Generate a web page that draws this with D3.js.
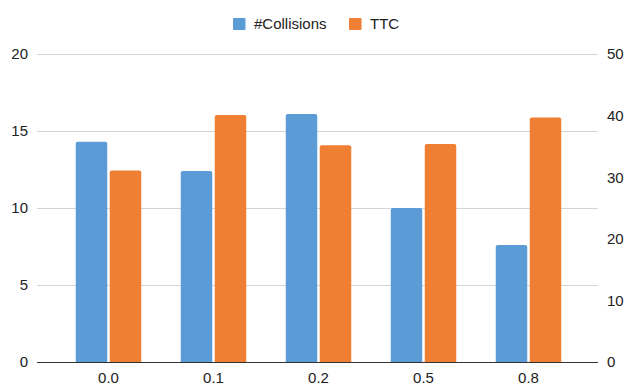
<!DOCTYPE html>
<html>
<head>
<meta charset="utf-8">
<script src="https://cdn.jsdelivr.net/npm/d3@7"></script>
<style>
  html, body { margin: 0; padding: 0; background: #fff; }
  svg { display: block; font-family: Arial, "Liberation Sans", sans-serif; }
</style>
</head>
<body>
<svg id="chart" width="634" height="385"></svg>
<script>
// Categories along the x axis
const categories = ["0.0", "0.1", "0.2", "0.5", "0.8"];
// Left-axis series
const collisions = [14.3, 12.4, 16.1, 10.0, 7.6];
// Right-axis series
const ttc = [31.1, 40.1, 35.2, 35.4, 39.7];
// Axis ticks
const leftTicks = [0, 5, 10, 15, 20];
const rightTicks = [0, 10, 20, 30, 40, 50];
const seriesNames = ["#Collisions", "TTC"];
const colors = ["#5b9bd6", "#ee7f33"];

const svg = d3.select("#chart");
const plot = { left: 37, right: 598, top: 54, bottom: 362 };

const x = d3.scaleBand().domain(categories).range([56, 581]);
const yL = d3.scaleLinear().domain([0, 20]).range([plot.bottom, plot.top]);
const yR = d3.scaleLinear().domain([0, 50]).range([plot.bottom, plot.top]);

// Horizontal gridlines
svg.append("g")
  .selectAll("line")
  .data(leftTicks.filter(d => d > 0))
  .join("line")
  .attr("x1", plot.left).attr("x2", plot.right)
  .attr("y1", d => Math.round(yL(d)) + 0.5).attr("y2", d => Math.round(yL(d)) + 0.5)
  .attr("stroke", "#d4d4d4").attr("stroke-width", 1);

// Bars with slightly rounded top corners
const barW = 31.5, gap = 2.5;
function roundTopRect(x0, y0, w, h, r) {
  r = Math.min(r, h);
  return `M${x0},${y0 + h}V${y0 + r}Q${x0},${y0} ${x0 + r},${y0}H${x0 + w - r}Q${x0 + w},${y0} ${x0 + w},${y0 + r}V${y0 + h}Z`;
}
const groups = svg.append("g");
categories.forEach((c, i) => {
  const cx = x(c) + x.bandwidth() / 2;
  const yb = yL(collisions[i]);
  groups.append("path")
    .attr("d", roundTopRect(cx - gap / 2 - barW, yb, barW, plot.bottom - yb, 2))
    .attr("fill", colors[0]);
  const yo = yR(ttc[i]);
  groups.append("path")
    .attr("d", roundTopRect(cx + gap / 2, yo, barW, plot.bottom - yo, 2))
    .attr("fill", colors[1]);
});

// Baseline
svg.append("line")
  .attr("x1", plot.left).attr("x2", plot.right)
  .attr("y1", plot.bottom + 0.5).attr("y2", plot.bottom + 0.5)
  .attr("stroke", "#333").attr("stroke-width", 1);

// Left axis
const axL = d3.axisLeft(yL).tickValues(leftTicks).tickSize(0).tickPadding(0);
const gL = svg.append("g").attr("transform", "translate(28,0)").call(axL);
gL.select(".domain").remove();
gL.selectAll("text").attr("font-size", 15).attr("fill", "#222").attr("font-family", "Arial, 'Liberation Sans', sans-serif");

// Right axis
const axR = d3.axisRight(yR).tickValues(rightTicks).tickSize(0).tickPadding(0);
const gR = svg.append("g").attr("transform", "translate(607,0)").call(axR);
gR.select(".domain").remove();
gR.selectAll("text").attr("font-size", 15).attr("fill", "#222").attr("font-family", "Arial, 'Liberation Sans', sans-serif");

// Category axis
const axB = d3.axisBottom(x).tickSize(0).tickPadding(0);
const gB = svg.append("g").attr("transform", `translate(0,${plot.bottom})`).call(axB);
gB.select(".domain").remove();
gB.selectAll("text").attr("font-size", 15).attr("fill", "#222").attr("dy", null).attr("y", 21)
  .attr("font-family", "Arial, 'Liberation Sans', sans-serif");

// Legend
const legend = svg.append("g");
const legendX = [233, 349];
seriesNames.forEach((name, i) => {
  legend.append("rect")
    .attr("x", legendX[i]).attr("y", 18).attr("width", 12.5).attr("height", 12)
    .attr("rx", 1).attr("fill", colors[i]);
  legend.append("text")
    .attr("x", legendX[i] + 21).attr("y", 29)
    .attr("font-size", 15).attr("fill", "#222")
    .text(name);
});
</script>
</body>
</html>
